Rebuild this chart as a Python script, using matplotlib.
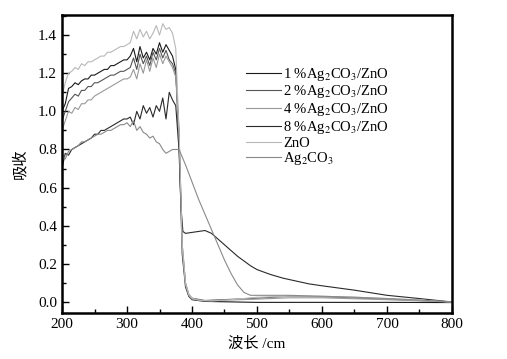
import matplotlib
matplotlib.use("Agg")
import matplotlib.pyplot as plt
from matplotlib.ticker import MultipleLocator

plt.rcParams['font.family'] = ['Liberation Serif', 'Noto Sans CJK SC']
plt.rcParams['mathtext.fontset'] = 'stix'

# wavelength grid for the UV part (nm)
wl_uv = [200, 205, 210, 215, 220, 225, 230, 235, 240, 245, 250, 255, 260, 265,
         270, 275, 280, 285, 290, 295, 300, 305, 310, 315, 320, 325, 330, 335,
         340, 345, 350, 355, 360, 365, 370, 375]

zno_uv = [1.08, 1.15, 1.20, 1.21, 1.23, 1.22, 1.25, 1.24, 1.26, 1.26, 1.27, 1.28,
          1.29, 1.29, 1.31, 1.31, 1.32, 1.33, 1.34, 1.34, 1.35, 1.36, 1.42, 1.38,
          1.43, 1.39, 1.42, 1.38, 1.41, 1.45, 1.40, 1.46, 1.43, 1.44, 1.41, 1.33]
p1_uv = [1.00, 1.04, 1.12, 1.13, 1.15, 1.14, 1.16, 1.17, 1.17, 1.19, 1.19, 1.20,
         1.21, 1.22, 1.22, 1.24, 1.24, 1.25, 1.26, 1.27, 1.27, 1.29, 1.33, 1.26,
         1.34, 1.28, 1.31, 1.27, 1.33, 1.30, 1.36, 1.31, 1.35, 1.32, 1.29, 1.22]
p2_uv = [0.95, 1.00, 1.05, 1.07, 1.09, 1.08, 1.11, 1.11, 1.13, 1.13, 1.15, 1.15,
         1.16, 1.17, 1.18, 1.19, 1.19, 1.20, 1.21, 1.21, 1.22, 1.23, 1.28, 1.22,
         1.30, 1.25, 1.29, 1.24, 1.31, 1.27, 1.33, 1.28, 1.32, 1.27, 1.25, 1.20]
p4_uv = [0.90, 0.95, 1.00, 0.99, 1.02, 1.01, 1.04, 1.04, 1.06, 1.06, 1.08, 1.09,
         1.10, 1.11, 1.12, 1.13, 1.14, 1.15, 1.16, 1.17, 1.17, 1.18, 1.22, 1.17,
         1.25, 1.20, 1.27, 1.21, 1.28, 1.23, 1.30, 1.25, 1.29, 1.26, 1.23, 1.18]
p8_uv = [0.70, 0.78, 0.77, 0.80, 0.81, 0.82, 0.83, 0.84, 0.85, 0.86, 0.88, 0.88,
         0.90, 0.90, 0.91, 0.92, 0.93, 0.94, 0.95, 0.96, 0.96, 0.97, 0.93, 1.00,
         0.96, 1.03, 0.99, 1.02, 0.97, 1.03, 1.00, 1.07, 0.96, 1.10, 1.06, 1.03]
ag_uv = [0.78, 0.75, 0.79, 0.80, 0.81, 0.82, 0.84, 0.84, 0.85, 0.86, 0.87, 0.88,
         0.88, 0.89, 0.90, 0.90, 0.91, 0.92, 0.93, 0.93, 0.94, 0.92, 0.95, 0.90,
         0.92, 0.89, 0.88, 0.86, 0.87, 0.84, 0.83, 0.80, 0.78, 0.79, 0.80, 0.80]

# visible part (after the edge)
wl_zno_vis = [380, 385, 390, 395, 400, 410, 430, 460, 500, 550, 600, 650, 700, 750, 800]
zno_vis = [0.90, 0.30, 0.10, 0.04, 0.02, 0.01, 0.005, 0.012, 0.025, 0.03, 0.03, 0.025, 0.018, 0.01, 0.0]
wl_p1_vis = [380, 385, 390, 395, 400, 420, 500, 600, 700, 800]
p1_vis = [0.85, 0.25, 0.08, 0.03, 0.012, 0.003, -0.002, -0.002, -0.002, -0.003]
wl_p2_vis = [380, 385, 390, 395, 400, 420, 500, 550, 600, 700, 800]
p2_vis = [0.90, 0.30, 0.10, 0.04, 0.02, 0.008, 0.02, 0.03, 0.028, 0.015, 0.0]
wl_p4_vis = [380, 385, 390, 395, 400, 420, 500, 550, 600, 700, 800]
p4_vis = [0.88, 0.28, 0.09, 0.035, 0.015, 0.006, 0.015, 0.022, 0.022, 0.012, 0.0]
wl_p8_vis = [380, 383, 386, 390, 400, 410, 420, 430, 440, 450, 460, 470, 480, 490,
             500, 520, 540, 560, 580, 600, 650, 700, 750, 800]
p8_vis = [0.80, 0.50, 0.37, 0.36, 0.365, 0.37, 0.375, 0.36, 0.33, 0.30, 0.27, 0.24,
          0.215, 0.19, 0.17, 0.145, 0.125, 0.11, 0.095, 0.085, 0.062, 0.035, 0.018, 0.0]
wl_ag_vis = [380, 390, 400, 410, 420, 430, 440, 450, 460, 470, 480, 490, 500, 550,
             600, 650, 700, 750, 800]
ag_vis = [0.80, 0.72, 0.63, 0.54, 0.46, 0.38, 0.30, 0.22, 0.15, 0.09, 0.05, 0.035,
          0.035, 0.035, 0.03, 0.025, 0.018, 0.01, 0.0]

labels = ['1 %Ag$_2$CO$_3$/ZnO', '2 %Ag$_2$CO$_3$/ZnO', '4 %Ag$_2$CO$_3$/ZnO',
          '8 %Ag$_2$CO$_3$/ZnO', 'ZnO', 'Ag$_2$CO$_3$']
colors = ['#1a1a1a', '#555555', '#999999', '#2a2a2a', '#b8b8b8', '#8a8a8a']

series = [
    (wl_uv + wl_p1_vis, p1_uv + p1_vis),
    (wl_uv + wl_p2_vis, p2_uv + p2_vis),
    (wl_uv + wl_p4_vis, p4_uv + p4_vis),
    (wl_uv + wl_p8_vis, p8_uv + p8_vis),
    (wl_uv + wl_zno_vis, zno_uv + zno_vis),
    (wl_uv + wl_ag_vis, ag_uv + ag_vis),
]

fig = plt.figure(figsize=(5.07, 3.59), dpi=100)
ax = fig.add_axes([0.1223, 0.128, 0.7692, 0.830])

for (x, y), c, lab in zip(series, colors, labels):
    ax.plot(x, y, color=c, lw=0.8, label=lab)

ax.set_xlim(200, 800)
ax.set_ylim(-0.058, 1.505)
ax.xaxis.set_major_locator(MultipleLocator(100))
ax.xaxis.set_minor_locator(MultipleLocator(50))
ax.yaxis.set_major_locator(MultipleLocator(0.2))
ax.yaxis.set_minor_locator(MultipleLocator(0.1))
ax.yaxis.set_major_formatter(plt.FormatStrFormatter('%.1f'))
ax.tick_params(which='both', direction='in', top=False, right=False, labelsize=11)
ax.tick_params(which='major', length=5, width=1)
ax.tick_params(which='minor', length=3, width=1)
for s in ax.spines.values():
    s.set_linewidth(1.8)

ax.set_xlabel('波长 /cm', fontsize=11, labelpad=4)
ax.set_ylabel('吸收', fontsize=11, labelpad=8)

ax.legend(loc='upper left', bbox_to_anchor=(0.458, 0.85), frameon=False,
          fontsize=10.5, handlelength=2.4, handletextpad=0.1, labelspacing=0.05,
          borderaxespad=0)

fig.savefig('out.png', dpi=100)
